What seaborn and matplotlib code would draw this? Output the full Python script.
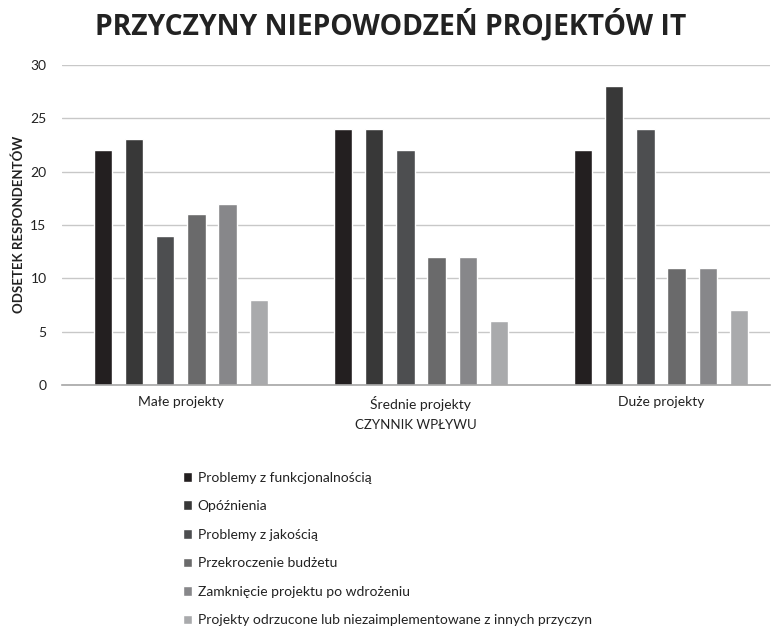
import pandas as pd
import seaborn as sns
import matplotlib.pyplot as plt

# Data
categories = ['Małe projekty', 'Średnie projekty', 'Duże projekty']
reasons = ['Problemy z funkcjonalnością',
           'Opóźnienia',
           'Problemy z jakością',
           'Przekroczenie budżetu',
           'Zamknięcie projektu po wdrożeniu',
           'Projekty odrzucone lub niezaimplementowane z innych przyczyn']
values = [
    [22, 24, 22],
    [23, 24, 28],
    [14, 22, 24],
    [16, 12, 11],
    [17, 12, 11],
    [8, 6, 7],
]
colors = ['#231f20', '#383838', '#4d4e50', '#6a6a6b', '#87878a', '#a9aaac']

rows = []
for reason, vals in zip(reasons, values):
    for cat, v in zip(categories, vals):
        rows.append({'kategoria': cat, 'przyczyna': reason, 'odsetek': v})
df = pd.DataFrame(rows)

sns.set_style('white')
plt.rcParams['font.family'] = ['Lato', 'DejaVu Sans']

fig = plt.figure(figsize=(7.73, 6.29), dpi=100)
ax = fig.add_axes([0.080, 0.388, 0.916, 0.509])

sns.barplot(data=df, x='kategoria', y='odsetek', hue='przyczyna',
            hue_order=reasons, order=categories, palette=colors,
            width=0.78, gap=0.41, saturation=1, ax=ax, legend=True)

ax.set_xlim(-0.496, 2.454)
ax.set_ylim(0, 30)
ax.set_yticks(range(0, 31, 5))
ax.yaxis.grid(True, color='#c8c8c8', linewidth=1)
ax.set_axisbelow(True)
for side in ['top', 'right', 'left']:
    ax.spines[side].set_visible(False)
ax.spines['bottom'].set_color('#a6a6a6')
ax.spines['bottom'].set_linewidth(1.2)
ax.tick_params(axis='both', length=0, labelsize=10, colors='#222222', pad=8)
ax.tick_params(axis='y', pad=11)

ax.set_xlabel('CZYNNIK WPŁYWU', fontsize=9.5, color='#222222', labelpad=6)
ax.set_ylabel('ODSETEK RESPONDENTÓW', fontsize=9.5, color='#222222',
              fontweight='bold', labelpad=4)

fig.suptitle('PRZYCZYNY NIEPOWODZEŃ PROJEKTÓW IT', x=0.505, y=0.985,
             fontsize=20.3, fontweight='bold', family=['Open Sans', 'DejaVu Sans'],
             color='#222222')

handles, labels = ax.get_legend_handles_labels()
ax.legend_.remove()
fig.legend(handles, labels, loc='upper left', bbox_to_anchor=(0.22, 0.27),
           ncol=1, frameon=False, fontsize=10, handlelength=0.7,
           handleheight=0.7, handletextpad=0.4, labelspacing=1.19,
           labelcolor='#222222')

fig.savefig('out.png', dpi=100)
